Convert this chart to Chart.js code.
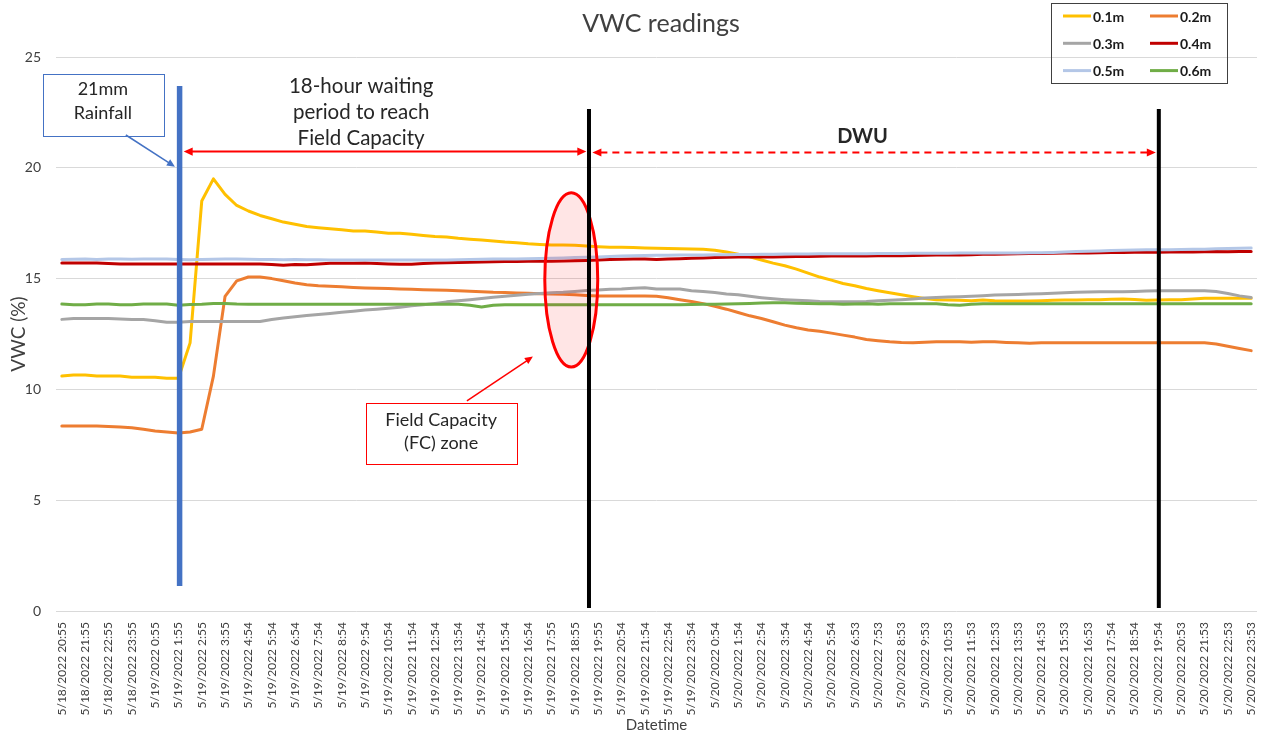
<!DOCTYPE html>
<html>
<head>
<meta charset="utf-8">
<title>VWC readings</title>
<script src="https://cdn.jsdelivr.net/npm/chart.js"></script>
<style>
  html, body { margin: 0; padding: 0; background: #fff; }
  #chart_root { display: block; }
</style>
</head>
<body>
<canvas id="chart_root" width="1270" height="736"></canvas>
<script>
// Axis labels (one label every second reading)
const tickLabels = [
  '5/18/2022 20:55', '5/18/2022 21:55', '5/18/2022 22:55', '5/18/2022 23:55',
  '5/19/2022 0:55', '5/19/2022 1:55', '5/19/2022 2:55', '5/19/2022 3:55', '5/19/2022 4:54', '5/19/2022 5:54',
  '5/19/2022 6:54', '5/19/2022 7:54', '5/19/2022 8:54', '5/19/2022 9:54', '5/19/2022 10:54', '5/19/2022 11:54',
  '5/19/2022 12:54', '5/19/2022 13:54', '5/19/2022 14:54', '5/19/2022 15:54', '5/19/2022 16:54', '5/19/2022 17:55',
  '5/19/2022 18:55', '5/19/2022 19:55', '5/19/2022 20:54', '5/19/2022 21:54', '5/19/2022 22:54', '5/19/2022 23:54',
  '5/20/2022 0:54', '5/20/2022 1:54', '5/20/2022 2:54', '5/20/2022 3:54', '5/20/2022 4:54', '5/20/2022 5:54',
  '5/20/2022 6:53', '5/20/2022 7:53', '5/20/2022 8:53', '5/20/2022 9:53', '5/20/2022 10:53', '5/20/2022 11:53',
  '5/20/2022 12:53', '5/20/2022 13:53', '5/20/2022 14:53', '5/20/2022 15:53', '5/20/2022 16:53', '5/20/2022 17:54',
  '5/20/2022 18:54', '5/20/2022 19:54', '5/20/2022 20:53', '5/20/2022 21:53', '5/20/2022 22:53', '5/20/2022 23:53'
];
const yTicks = [0, 5, 10, 15, 20, 25];

const seriesNames = ['0.1m', '0.2m', '0.3m', '0.4m', '0.5m', '0.6m'];
const seriesColors = ['#FFC000', '#ED7D31', '#A5A5A5', '#C00000', '#B4C7E7', '#70AD47'];

// VWC readings, one value per reading
const vwc01 = [
  10.6, 10.65, 10.65, 10.6, 10.6, 10.6, 10.55, 10.55, 10.55, 10.5,
  10.5, 12.1, 18.5, 19.5, 18.8, 18.3, 18.05, 17.85, 17.7, 17.55,
  17.45, 17.35, 17.3, 17.25, 17.2, 17.15, 17.15, 17.1, 17.05, 17.05,
  17.0, 16.95, 16.9, 16.88, 16.82, 16.78, 16.74, 16.7, 16.65, 16.62,
  16.57, 16.54, 16.52, 16.52, 16.5, 16.47, 16.44, 16.42, 16.41, 16.4,
  16.38, 16.37, 16.36, 16.35, 16.34, 16.32, 16.28, 16.2, 16.1, 15.98,
  15.84, 15.7, 15.58, 15.43, 15.25, 15.07, 14.93, 14.78, 14.68, 14.55,
  14.45, 14.36, 14.27, 14.18, 14.1, 14.05, 14.03, 14.02, 14.0, 14.03,
  14.0, 13.99, 13.99, 13.99, 14.0, 14.02, 14.03, 14.03, 14.04, 14.05,
  14.07, 14.08, 14.06, 14.02, 14.03, 14.04, 14.05, 14.08, 14.11, 14.11,
  14.11, 14.11, 14.11
];
const vwc02 = [
  8.35, 8.35, 8.35, 8.35, 8.33, 8.3, 8.27, 8.2, 8.12, 8.08,
  8.03, 8.08, 8.2, 10.6, 14.2, 14.9, 15.07, 15.07, 15.0, 14.9,
  14.8, 14.72, 14.68, 14.66, 14.63, 14.6, 14.58, 14.56, 14.55, 14.53,
  14.52, 14.5, 14.49, 14.47, 14.45, 14.43, 14.41, 14.38, 14.37, 14.35,
  14.34, 14.32, 14.3, 14.29, 14.27, 14.24, 14.22, 14.21, 14.21, 14.21,
  14.21, 14.2, 14.14, 14.05, 13.97, 13.87, 13.75, 13.62, 13.47, 13.32,
  13.2, 13.05, 12.9, 12.78, 12.68, 12.62, 12.54, 12.45, 12.36, 12.25,
  12.2, 12.15, 12.12, 12.11, 12.13, 12.15, 12.15, 12.15, 12.13, 12.15,
  12.15, 12.12, 12.1, 12.08, 12.1, 12.1, 12.1, 12.1, 12.1, 12.1,
  12.1, 12.1, 12.1, 12.1, 12.1, 12.1, 12.1, 12.1, 12.1, 12.05,
  11.95, 11.85, 11.75
];
const vwc03 = [
  13.16, 13.2, 13.2, 13.2, 13.2, 13.18, 13.15, 13.15, 13.1, 13.03,
  13.03, 13.06, 13.06, 13.06, 13.06, 13.06, 13.06, 13.06, 13.15, 13.22,
  13.28, 13.33, 13.38, 13.43, 13.48, 13.53, 13.58, 13.62, 13.66, 13.71,
  13.77, 13.82, 13.88, 13.95, 14.0, 14.05, 14.1, 14.16, 14.2, 14.25,
  14.29, 14.33, 14.36, 14.38, 14.42, 14.46, 14.49, 14.52, 14.53, 14.56,
  14.59, 14.53, 14.53, 14.53, 14.45, 14.42, 14.37, 14.31, 14.27, 14.2,
  14.14, 14.09, 14.05, 14.02, 14.0, 13.97, 13.96, 13.96, 13.96, 13.97,
  14.0, 14.02, 14.05, 14.08, 14.12, 14.15, 14.17, 14.18, 14.2, 14.23,
  14.26, 14.27, 14.28, 14.3, 14.32, 14.34, 14.36, 14.38, 14.39, 14.41,
  14.41, 14.41, 14.42, 14.44, 14.45, 14.45, 14.45, 14.45, 14.45, 14.42,
  14.33, 14.22, 14.15
];
const vwc04 = [
  15.7, 15.7, 15.7, 15.7, 15.68, 15.66, 15.66, 15.66, 15.66, 15.66,
  15.66, 15.66, 15.66, 15.66, 15.66, 15.66, 15.66, 15.66, 15.64, 15.6,
  15.64, 15.62, 15.66, 15.69, 15.69, 15.69, 15.7, 15.68, 15.66, 15.65,
  15.65, 15.68, 15.7, 15.72, 15.73, 15.74, 15.75, 15.76, 15.77, 15.77,
  15.78, 15.78, 15.78, 15.79, 15.8, 15.82, 15.84, 15.86, 15.87, 15.88,
  15.88, 15.86, 15.88, 15.9, 15.92, 15.93, 15.95, 15.96, 15.97, 15.97,
  15.97, 15.98, 15.99, 16.0, 16.0, 16.01, 16.02, 16.02, 16.02, 16.02,
  16.03, 16.03, 16.03, 16.04, 16.05, 16.06, 16.06, 16.07, 16.08, 16.1,
  16.1, 16.11, 16.12, 16.13, 16.13, 16.14, 16.15, 16.16, 16.16, 16.17,
  16.18, 16.18, 16.19, 16.19, 16.19, 16.2, 16.2, 16.2, 16.21, 16.22,
  16.21, 16.22, 16.22
];
const vwc05 = [
  15.86, 15.87, 15.88, 15.86, 15.88, 15.88, 15.87, 15.88, 15.88, 15.88,
  15.86, 15.85, 15.86, 15.87, 15.88, 15.88, 15.87, 15.86, 15.86, 15.85,
  15.86, 15.85, 15.85, 15.84, 15.84, 15.84, 15.84, 15.84, 15.84, 15.84,
  15.84, 15.84, 15.84, 15.84, 15.85, 15.86, 15.87, 15.88, 15.88, 15.89,
  15.9, 15.91, 15.92, 15.93, 15.95, 15.96, 15.98, 16.0, 16.02, 16.03,
  16.04, 16.05, 16.05, 16.06, 16.06, 16.07, 16.08, 16.08, 16.09, 16.09,
  16.1, 16.1, 16.11, 16.11, 16.11, 16.12, 16.12, 16.12, 16.12, 16.12,
  16.13, 16.13, 16.13, 16.14, 16.14, 16.14, 16.14, 16.15, 16.15, 16.15,
  16.16, 16.16, 16.16, 16.17, 16.17, 16.18, 16.2, 16.22, 16.23, 16.25,
  16.27, 16.28, 16.29, 16.3, 16.3, 16.3, 16.31, 16.32, 16.33, 16.35,
  16.36, 16.37, 16.38
];
const vwc06 = [
  13.85, 13.82, 13.82, 13.85, 13.85, 13.82, 13.82, 13.85, 13.85, 13.85,
  13.8, 13.83, 13.84, 13.88, 13.88, 13.85, 13.84, 13.84, 13.84, 13.84,
  13.84, 13.84, 13.84, 13.84, 13.84, 13.84, 13.84, 13.84, 13.84, 13.84,
  13.84, 13.84, 13.84, 13.84, 13.84, 13.8, 13.72, 13.8, 13.82, 13.82,
  13.82, 13.82, 13.82, 13.82, 13.82, 13.82, 13.82, 13.82, 13.82, 13.82,
  13.82, 13.82, 13.82, 13.82, 13.83, 13.84, 13.84, 13.85, 13.86, 13.88,
  13.9, 13.91, 13.91, 13.89, 13.88, 13.87, 13.86, 13.84, 13.85, 13.86,
  13.84, 13.86, 13.87, 13.86, 13.87, 13.86, 13.82, 13.8, 13.84, 13.87,
  13.87, 13.87, 13.87, 13.87, 13.87, 13.87, 13.87, 13.87, 13.87, 13.87,
  13.87, 13.87, 13.87, 13.87, 13.87, 13.87, 13.87, 13.87, 13.87, 13.87,
  13.87, 13.87, 13.87
];
const series = [vwc01, vwc02, vwc03, vwc04, vwc05, vwc06];

const FONT = 'Lato, "Open Sans", sans-serif';
Chart.defaults.font.family = FONT;

function arrowHead(ctx, x1, y1, x2, y2, size, color) {
  const a = Math.atan2(y2 - y1, x2 - x1);
  const bx = x2 - size * Math.cos(a);
  const by = y2 - size * Math.sin(a);
  const h = size * 0.45;
  ctx.fillStyle = color;
  ctx.beginPath();
  ctx.moveTo(x2, y2);
  ctx.lineTo(bx - h * Math.sin(a), by + h * Math.cos(a));
  ctx.lineTo(bx + h * Math.sin(a), by - h * Math.cos(a));
  ctx.closePath();
  ctx.fill();
}

function arrowLine(ctx, x1, y1, x2, y2, opts) {
  const size = opts.size || 8;
  const a = Math.atan2(y2 - y1, x2 - x1);
  const sx = opts.both ? x1 + (size - 1) * Math.cos(a) : x1;
  const sy = opts.both ? y1 + (size - 1) * Math.sin(a) : y1;
  ctx.save();
  ctx.strokeStyle = opts.color;
  ctx.lineWidth = opts.width;
  ctx.setLineDash(opts.dash || []);
  ctx.beginPath();
  ctx.moveTo(sx, sy);
  ctx.lineTo(x2 - (size - 1) * Math.cos(a), y2 - (size - 1) * Math.sin(a));
  ctx.stroke();
  ctx.setLineDash([]);
  arrowHead(ctx, x1, y1, x2, y2, size, opts.color);
  if (opts.both) arrowHead(ctx, x2, y2, x1, y1, size, opts.color);
  ctx.restore();
}

function textBox(ctx, x0, y0, x1, y1, stroke) {
  ctx.save();
  ctx.fillStyle = '#fff';
  ctx.fillRect(x0, y0, x1 - x0, y1 - y0);
  ctx.strokeStyle = stroke;
  ctx.lineWidth = 1;
  ctx.strokeRect(Math.round(x0) + 0.5, Math.round(y0) + 0.5, Math.round(x1 - x0), Math.round(y1 - y0));
  ctx.restore();
}

function centerText(ctx, lines, x, ys, font, color) {
  ctx.save();
  ctx.font = font;
  ctx.fillStyle = color;
  ctx.textAlign = 'center';
  ctx.textBaseline = 'middle';
  lines.forEach((t, i) => ctx.fillText(t, x, ys[i]));
  ctx.restore();
}

// Annotations, title and legend box
const notes = {
  id: 'notes',
  afterDatasetsDraw(chart) {
    const { ctx, scales: { x, y } } = chart;
    const px = v => x.getPixelForValue(v);
    const py = v => y.getPixelForValue(v);

    // field capacity zone
    ctx.save();
    ctx.beginPath();
    ctx.ellipse(px(43.69), py(14.94), px(45.96) - px(43.69), py(11.01) - py(14.94), 0, 0, Math.PI * 2);
    ctx.fillStyle = 'rgba(255, 0, 0, 0.1)';
    ctx.fill();
    ctx.strokeStyle = '#FF0000';
    ctx.lineWidth = 3;
    ctx.stroke();
    ctx.restore();

    // rainfall marker
    ctx.save();
    ctx.strokeStyle = '#4472C4';
    ctx.lineWidth = 5.5;
    ctx.beginPath();
    ctx.moveTo(px(10.1), py(23.69));
    ctx.lineTo(px(10.1), py(1.13));
    ctx.stroke();

    // start / end of DWU window
    ctx.strokeStyle = '#000';
    ctx.lineWidth = 4;
    [45.21, 94.08].forEach(v => {
      ctx.beginPath();
      ctx.moveTo(px(v), py(22.65));
      ctx.lineTo(px(v), py(0.14));
      ctx.stroke();
    });
    ctx.restore();

    arrowLine(ctx, px(10.45), py(20.73), px(44.98), py(20.73), { color: '#FF0000', width: 2, both: true, size: 9 });
    arrowLine(ctx, px(45.5), py(20.69), px(93.82), py(20.69), { color: '#FF0000', width: 2, both: true, size: 9, dash: [7, 5] });
    centerText(ctx, ['18-hour waiting', 'period to reach', 'Field Capacity'], px(25.67),
      [py(23.69), py(22.52), py(21.34)], '20.5px ' + FONT, '#262626');
    centerText(ctx, ['DWU'], px(68.67), [py(21.39)], 'bold 20px ' + FONT, '#262626');

    // 21mm rainfall callout
    textBox(ctx, px(-1.63), py(24.23), px(8.76), py(21.43), '#4472C4');
    centerText(ctx, ['21mm', 'Rainfall'], px(3.52), [py(23.56), py(22.47)], '18px ' + FONT, '#262626');
    arrowLine(ctx, px(5.49), py(21.48), px(9.7), py(20.05), { color: '#4472C4', width: 1.5, size: 8 });

    // FC zone callout
    textBox(ctx, px(26.07), py(9.37), px(39.03), py(6.62), '#FF0000');
    centerText(ctx, ['Field Capacity', '(FC) zone'], px(32.53), [py(8.62), py(7.58)], '18px ' + FONT, '#262626');
    arrowLine(ctx, px(34.74), py(9.48), px(40.4), py(11.48), { color: '#FF0000', width: 1.5, size: 8 });
  },
  afterDraw(chart) {
    const { ctx } = chart;
    centerText(ctx, ['VWC readings'], 661, [24], '25px ' + FONT, '#404040');

    // legend
    ctx.save();
    ctx.strokeStyle = '#404040';
    ctx.lineWidth = 1;
    ctx.strokeRect(1051.5, 3.5, 176, 80);
    ctx.font = 'bold 14px ' + FONT;
    ctx.textBaseline = 'middle';
    seriesNames.forEach((name, i) => {
      const lx = i % 2 === 0 ? 1063 : 1150;
      const ly = 16 + Math.floor(i / 2) * 27.3;
      ctx.strokeStyle = seriesColors[i];
      ctx.lineWidth = 3;
      ctx.beginPath();
      ctx.moveTo(lx, ly);
      ctx.lineTo(lx + 28, ly);
      ctx.stroke();
      ctx.fillStyle = '#1a1a1a';
      ctx.fillText(name, lx + 30, ly + 1);
    });
    ctx.restore();
  }
};

const ctx = document.getElementById('chart_root');

new Chart(ctx, {
  type: 'line',
  data: {
    datasets: series.map((vals, i) => ({
      label: seriesNames[i],
      data: vals.map((v, j) => ({ x: j, y: v })),
      borderColor: seriesColors[i],
      backgroundColor: seriesColors[i],
      borderWidth: 3,
      pointRadius: 0,
      tension: 0,
      borderJoinStyle: 'round',
      borderCapStyle: 'round',
      order: series.length - i
    }))
  },
  options: {
    responsive: false,
    animation: false,
    layout: { padding: { top: 57, right: 13, bottom: 0, left: 0 } },
    plugins: {
      legend: { display: false },
      title: { display: false },
      tooltip: { enabled: false }
    },
    scales: {
      x: {
        type: 'linear',
        min: -0.5,
        max: 102.5,
        afterBuildTicks: (s) => { s.ticks = tickLabels.map((_, i) => ({ value: i * 2 })); },
        afterFit: (s) => { s.height = 125; s.paddingLeft = 0; s.paddingRight = 0; },
        ticks: {
          autoSkip: false,
          minRotation: 90,
          maxRotation: 90,
          padding: 11,
          color: '#404040',
          font: { size: 12 },
          callback: (v) => tickLabels[v / 2]
        },
        grid: { display: false, drawTicks: false },
        border: { display: false },
        title: { display: true, text: 'Datetime', color: '#404040', font: { size: 15 }, padding: { top: 0, bottom: 2 } }
      },
      y: {
        min: 0,
        max: 25,
        afterBuildTicks: (s) => { s.ticks = yTicks.map((v) => ({ value: v })); },
        afterFit: (s) => { s.width = 56; },
        ticks: { padding: 15, color: '#404040', font: { size: 14 } },
        grid: { color: '#D9D9D9', lineWidth: 1, drawTicks: false },
        border: { display: false },
        title: { display: true, text: 'VWC (%)', color: '#404040', font: { size: 19 }, padding: { top: 7, bottom: 0 } }
      }
    }
  },
  plugins: [notes]
});
</script>
</body>
</html>
